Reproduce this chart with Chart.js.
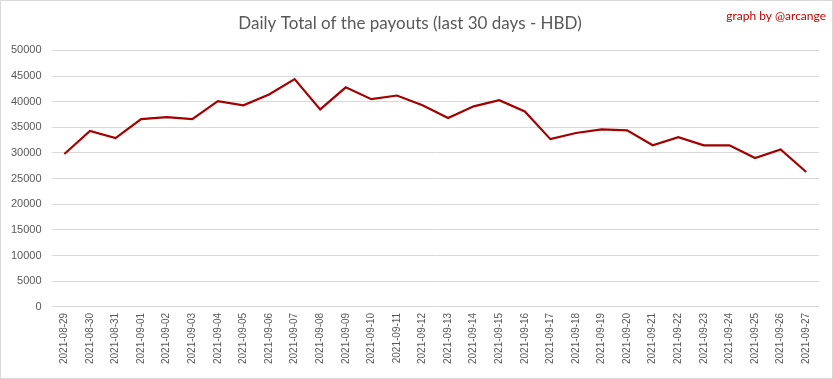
<!DOCTYPE html>
<html>
<head>
<meta charset="utf-8">
<script src="https://cdn.jsdelivr.net/npm/chart.js@4"></script>
<style>
    body { margin: 0; background: #fff; }
    #wrap { width: 833px; height: 379px; border: 1px solid #d9d9d9; box-sizing: border-box; }
</style>
</head>
<body>
<div id="wrap"><canvas id="graficoPayouts"></canvas></div>
<script>
// =========================
// DATOS
// =========================
const fechas = [
    '2021-08-29', '2021-08-30', '2021-08-31', '2021-09-01', '2021-09-02', '2021-09-03',
    '2021-09-04', '2021-09-05', '2021-09-06', '2021-09-07', '2021-09-08', '2021-09-09',
    '2021-09-10', '2021-09-11', '2021-09-12', '2021-09-13', '2021-09-14', '2021-09-15',
    '2021-09-16', '2021-09-17', '2021-09-18', '2021-09-19', '2021-09-20', '2021-09-21',
    '2021-09-22', '2021-09-23', '2021-09-24', '2021-09-25', '2021-09-26', '2021-09-27'
];
const totalHBD = [
    29800, 34300, 32900, 36600, 37000, 36600,
    40100, 39300, 41400, 44400, 38500, 42800,
    40500, 41200, 39300, 36800, 39100, 40300,
    38100, 32700, 33900, 34600, 34400, 31500,
    33100, 31500, 31500, 29000, 30700, 26300
];
const ticksY = [0, 5000, 10000, 15000, 20000, 25000, 30000, 35000, 40000, 45000, 50000];

const textoGris = '#595959';

// firma arriba a la derecha
const firma = {
    id: 'firma',
    afterDraw(chart) {
        const ctx = chart.ctx;
        ctx.save();
        ctx.font = '12px Lato, sans-serif';
        ctx.fillStyle = '#c00000';
        ctx.textAlign = 'right';
        ctx.textBaseline = 'middle';
        ctx.fillText('graph by @arcange', chart.width - 6, 15);
        ctx.restore();
    }
};

new Chart(document.getElementById('graficoPayouts'), {
    type: 'line',
    data: {
        labels: fechas,
        datasets: [{
            label: 'HBD',
            data: totalHBD,
            borderColor: '#a00000',
            borderWidth: 2.2,
            pointRadius: 0,
            tension: 0,
            fill: false
        }]
    },
    options: {
        responsive: true,
        maintainAspectRatio: false,
        animation: false,
        layout: { padding: { left: 0, right: 13, top: 0, bottom: 8 } },
        plugins: {
            legend: { display: false },
            tooltip: { enabled: false },
            title: {
                display: true,
                text: 'Daily Total of the payouts (last 30 days - HBD)',
                color: textoGris,
                font: { family: 'Lato, sans-serif', size: 17, weight: 'normal' },
                padding: { top: 12, bottom: 17 }
            }
        },
        scales: {
            x: {
                offset: true,
                grid: { display: false, drawTicks: false },
                border: { display: false },
                ticks: {
                    color: textoGris,
                    font: { family: 'Liberation Sans, sans-serif', size: 10 },
                    minRotation: 90,
                    maxRotation: 90,
                    autoSkip: false,
                    padding: 6
                }
            },
            y: {
                min: 0,
                max: 50000,
                afterBuildTicks(axis) {
                    axis.ticks = ticksY.map(v => ({ value: v }));
                },
                grid: { color: '#d9d9d9', drawTicks: false },
                border: { display: false },
                ticks: {
                    color: textoGris,
                    font: { family: 'Liberation Sans, sans-serif', size: 11 },
                    padding: 10,
                    callback: (v) => String(v)
                }
            }
        }
    },
    plugins: [firma]
});
</script>
</body>
</html>
